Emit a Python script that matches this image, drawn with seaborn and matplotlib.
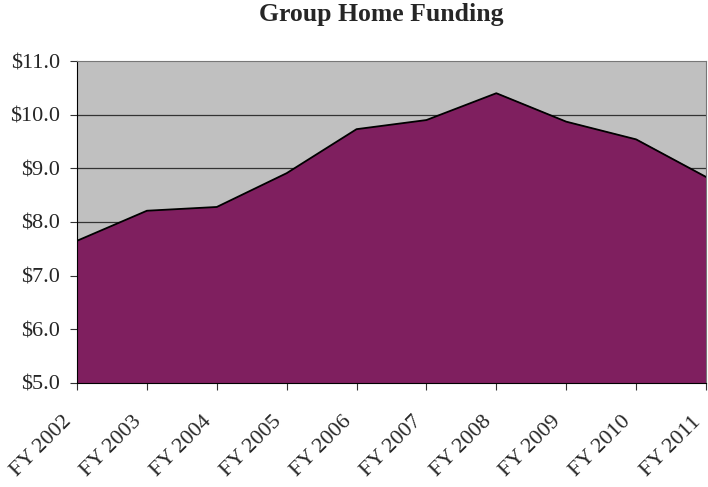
import pandas as pd
import seaborn as sns
import matplotlib.pyplot as plt
from matplotlib.ticker import FuncFormatter
from matplotlib.transforms import ScaledTranslation

sns.set_style("ticks")
plt.rcParams['font.family'] = ['Liberation Serif', 'DejaVu Serif']

# funding by fiscal year, in millions
years = ['FY 2002', 'FY 2003', 'FY 2004', 'FY 2005', 'FY 2006',
         'FY 2007', 'FY 2008', 'FY 2009', 'FY 2010', 'FY 2011']
funding = [7.65, 8.21, 8.28, 8.91, 9.73, 9.90, 10.40, 9.87, 9.54, 8.84]

df = pd.DataFrame({'year': years, 'funding': funding})
df['pos'] = range(len(df))

fig = plt.figure(figsize=(7.08, 4.87), dpi=100)
ax = fig.add_axes([0.1088, 0.2136, 0.8883, 0.6611])
ax.set_facecolor('#C0C0C0')

for y in [6, 7, 8, 9, 10]:
    ax.axhline(y, color='#333333', lw=0.9, zorder=1)

ax.fill_between(df['pos'], 5, df['funding'], color='#7F1F5F', zorder=2)
sns.lineplot(data=df, x='pos', y='funding', color='black', lw=1.3, ax=ax, zorder=3)

ax.set_xlim(0, len(df) - 1)
ax.set_ylim(5, 11)
ax.set_yticks([5, 6, 7, 8, 9, 10, 11])
ax.yaxis.set_major_formatter(FuncFormatter(lambda v, p: f'${v:.1f}'))
ax.set_xticks(df['pos'])
ax.set_xticklabels(df['year'], rotation=45, ha='right', va='center',
                   rotation_mode='anchor')
ax.tick_params(axis='both', labelsize=16, length=5, color='#333333')
ax.tick_params(axis='y', pad=7)
ax.tick_params(axis='x', pad=21)
# nudge the slanted labels a bit left of their ticks
shift = ScaledTranslation(-0.08, 0, fig.dpi_scale_trans)
for lab in ax.get_xticklabels():
    lab.set_transform(lab.get_transform() + shift)
ax.set_xlabel('')
ax.set_ylabel('')
for s in ax.spines.values():
    s.set_color('#777777')
ax.spines['bottom'].set_color('black')
ax.spines['left'].set_color('black')

fig.text(0.538, 0.957, 'Group Home Funding', ha='center', va='baseline',
         fontsize=18.5, fontweight='bold')
fig.savefig('out.png', dpi=100)
